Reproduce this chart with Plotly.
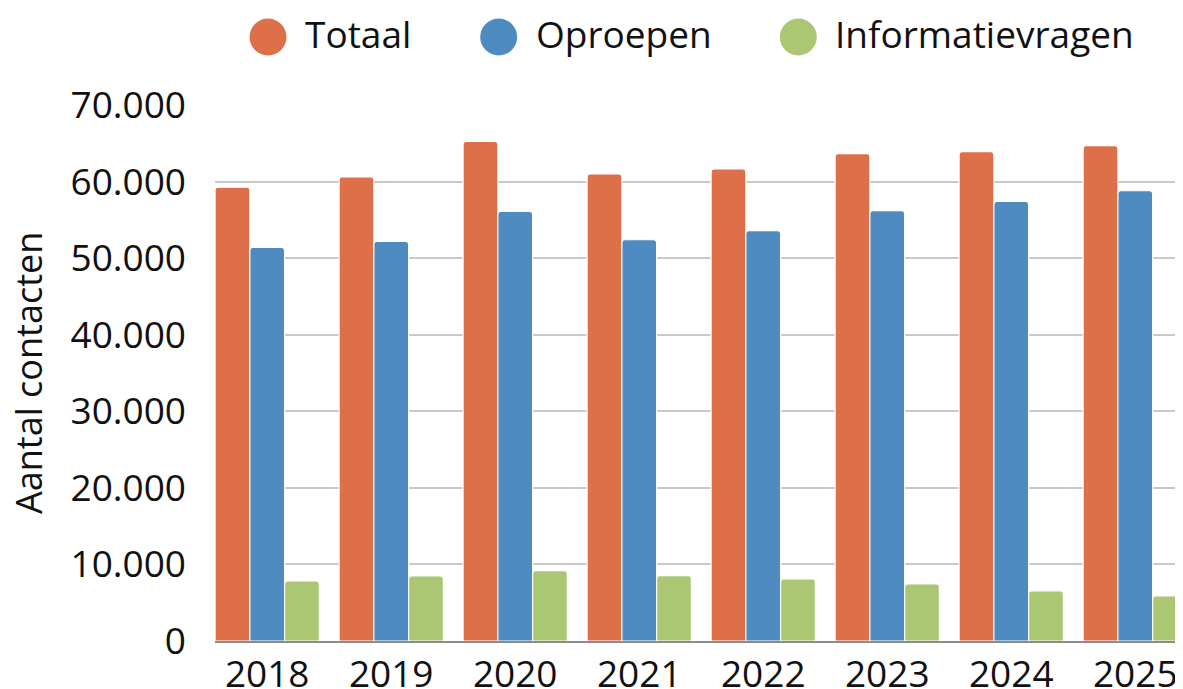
import plotly.graph_objects as go

years = ["2018", "2019", "2020", "2021", "2022", "2023", "2024", "2025"]
totaal = [59260, 60600, 65250, 61000, 61650, 63650, 63900, 64700]
oproepen = [51400, 52200, 56100, 52400, 53600, 56200, 57400, 58800]
informatievragen = [7850, 8500, 9200, 8550, 8100, 7450, 6550, 5900]

series_names = ["Totaal", "Oproepen", "Informatievragen"]
series_values = [totaal, oproepen, informatievragen]
series_colors = ["#DD7049", "#4E8BC1", "#ACC774"]

y_tickvals = [0, 10000, 20000, 30000, 40000, 50000, 60000, 70000]
y_ticktext = ["0", "10.000", "20.000", "30.000", "40.000", "50.000", "60.000", "70.000"]

FONT = "Open Sans"
TXT = "#111111"

fig = go.Figure()
for name, vals, col in zip(series_names, series_values, series_colors):
    fig.add_trace(go.Bar(
        x=years, y=vals, name=name,
        marker=dict(color=col, line=dict(color="white", width=1.2), cornerradius=3),
        showlegend=False,
    ))

# page has an 8px body margin: the figure starts at (8, 8)
OFF = 8
W, H = 1183 - OFF, 689 - OFF
ml, mr, mt = 215 - OFF, 0, 105 - OFF
mb = H - (641 - OFF)
pw, ph = W - ml - mr, H - mt - mb
leg_circle_px = [268 - OFF, 498.7 - OFF, 798.3 - OFF]
leg_y_px = 37 - OFF
shapes = []
annotations = []
for name, col, cx in zip(series_names, series_colors, leg_circle_px):
    xp = (cx - ml) / pw
    yp = (H - mb - leg_y_px) / ph
    shapes.append(dict(type="circle", xref="paper", yref="paper",
                       xsizemode="pixel", ysizemode="pixel",
                       xanchor=xp, yanchor=yp, x0=-18.5, x1=18.5, y0=-18.5, y1=18.5,
                       fillcolor=col, line=dict(width=0)))
    annotations.append(dict(text=name, xref="paper", yref="paper",
                            x=(cx + 35 - ml) / pw, y=(H - mb - (leg_y_px - 4)) / ph,
                            xanchor="left", yanchor="middle", showarrow=False,
                            font=dict(family=FONT, size=37, color=TXT)))

# y-axis title
annotations.append(dict(text="Aantal contacten", xref="paper", yref="paper",
                        x=(28 - OFF - ml) / pw, y=0.5, xanchor="center", yanchor="middle",
                        textangle=-90, showarrow=False,
                        font=dict(family=FONT, size=36, color=TXT)))

fig.update_layout(
    width=W, height=H,
    margin=dict(l=ml, r=mr, t=mt, b=mb, pad=0, autoexpand=False),
    paper_bgcolor="white", plot_bgcolor="white",
    barmode="group", bargap=0.159, bargroupgap=0,
    font=dict(family=FONT, size=37, color=TXT),
    shapes=shapes, annotations=annotations,
    xaxis=dict(range=[-0.421, 7.385], showgrid=False, showline=True,
               linecolor="#8c8c8c", linewidth=1.5, ticks="",
               tickfont=dict(family=FONT, size=37, color=TXT),
               ticklabelstandoff=0, fixedrange=True, automargin=False),
    yaxis=dict(range=[0, 70000], tickvals=y_tickvals, ticktext=y_ticktext,
               showgrid=True, gridcolor="#c8c8c8", gridwidth=1.5,
               zeroline=False, showline=False, ticks="",
               tickfont=dict(family=FONT, size=37, color=TXT),
               ticklabelstandoff=28, automargin=False),
)

fig.write_html("out.html")
